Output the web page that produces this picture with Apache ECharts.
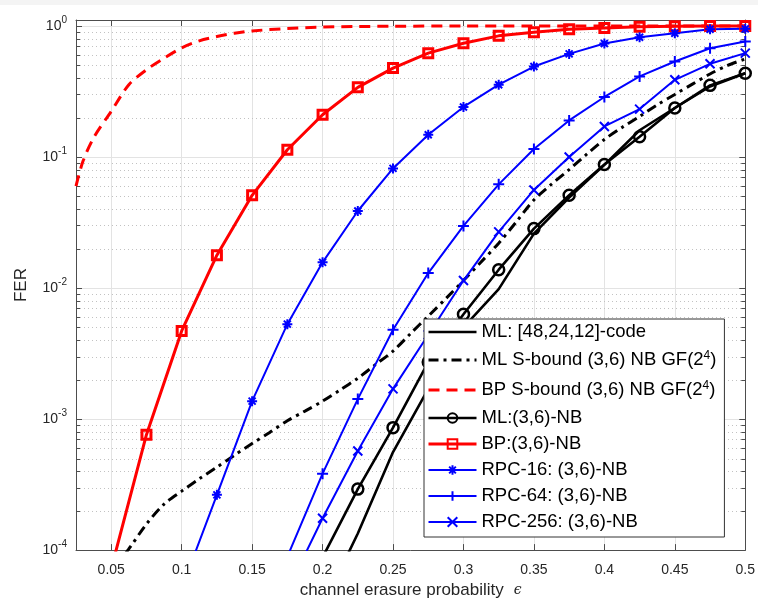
<!DOCTYPE html>
<html lang="en">
<head>
<meta charset="UTF-8">
<title>FER vs channel erasure probability</title>
<script src="https://cdn.jsdelivr.net/npm/echarts@6/dist/echarts.min.js"></script>
<style>
  html, body { margin: 0; padding: 0; background: #fff; }
  #main { position: absolute; left: 0; top: 0; width: 758px; height: 604px; }
  #strip { position: absolute; left: 0; top: 0; width: 758px; height: 5px; background: #f4f4f4; }
</style>
</head>
<body>
<div id="main"></div>
<div id="strip"></div>
<script type="text/javascript">
var FONT = '"Liberation Sans", Arial, Helvetica, sans-serif';
var X_MIN = 0.025, X_MAX = 0.5;
var Y_MIN = 1e-4, Y_MAX = 1.11;

var names = [
  'ML: [48,24,12]-code',
  'ML S-bound (3,6) NB GF(2^4)',
  'BP S-bound (3,6) NB GF(2^4)',
  'ML:(3,6)-NB',
  'BP:(3,6)-NB',
  'RPC-16: (3,6)-NB',
  'RPC-64: (3,6)-NB',
  'RPC-256: (3,6)-NB'
];

// ML [48,24,12]-code
var epsMLcode = [0.2, 0.225, 0.25, 0.275, 0.3, 0.325, 0.35, 0.375, 0.4, 0.425, 0.45, 0.475, 0.5];
var ferMLcode = [3.7e-5, 1.34e-4, 5.6e-4, 1.7e-3, 5.0e-3, 9.8e-3, 0.026, 0.049, 0.087, 0.16, 0.2365, 0.345, 0.436];

// ML S-bound (dash-dot)
var epsMLbound = [0.05, 0.0625, 0.075, 0.0875, 0.1, 0.1125, 0.125, 0.1375, 0.15, 0.1625, 0.175, 0.1875,
  0.2, 0.2125, 0.225, 0.2375, 0.25, 0.2625, 0.275, 0.2875, 0.3, 0.3125, 0.325, 0.3375, 0.35, 0.3625,
  0.375, 0.3875, 0.4, 0.4125, 0.425, 0.4375, 0.45, 0.4625, 0.475, 0.4875, 0.5];
var ferMLbound = [6.8e-5, 1.02e-4, 1.58e-4, 2.24e-4, 2.82e-4, 3.5e-4, 4.3e-4, 5.3e-4, 6.5e-4, 7.9e-4, 9.7e-4, 1.15e-3,
  1.37e-3, 1.67e-3, 2.05e-3, 2.6e-3, 3.3e-3, 4.5e-3, 6.1e-3, 8.3e-3, 0.0114, 0.0158, 0.022, 0.032, 0.047, 0.062,
  0.08, 0.105, 0.136, 0.168, 0.204, 0.25, 0.3, 0.36, 0.43, 0.5, 0.56];

// BP S-bound (dashed red)
var epsBPbound = [0.025, 0.03, 0.0375, 0.05, 0.0625, 0.075, 0.0875, 0.1, 0.1125, 0.125, 0.1375, 0.15,
  0.175, 0.2, 0.225, 0.25, 0.3, 0.35, 0.4, 0.45, 0.5];
var ferBPbound = [0.06, 0.093, 0.14, 0.223, 0.356, 0.463, 0.568, 0.68, 0.77, 0.83, 0.88, 0.916,
  0.955, 0.98, 0.99, 0.995, 0.999, 1, 1, 1, 1];

// ML (3,6)-NB (circles)
var epsML = [0.2, 0.225, 0.25, 0.275, 0.3, 0.325, 0.35, 0.375, 0.4, 0.425, 0.45, 0.475, 0.5];
var ferML = [8.8e-5, 2.92e-4, 8.6e-4, 2.72e-3, 6.3e-3, 0.0138, 0.0284, 0.051, 0.0877, 0.1425, 0.2365, 0.352, 0.436];

// BP (3,6)-NB (squares)
var epsBP = [0.05, 0.075, 0.1, 0.125, 0.15, 0.175, 0.2, 0.225, 0.25, 0.275, 0.3, 0.325, 0.35, 0.375, 0.4,
  0.425, 0.45, 0.475, 0.5];
var ferBP = [7.2e-5, 7.6e-4, 4.7e-3, 0.0178, 0.051, 0.1135, 0.21, 0.34, 0.477, 0.62, 0.738, 0.84, 0.895, 0.944, 0.966,
  0.985, 0.993, 0.997, 0.999];

// RPC-16 (asterisks)
var epsRPC16 = [0.1, 0.125, 0.15, 0.175, 0.2, 0.225, 0.25, 0.275, 0.3, 0.325, 0.35, 0.375, 0.4, 0.425, 0.45, 0.475, 0.5];
var ferRPC16 = [5.1e-5, 2.64e-4, 1.37e-3, 5.3e-3, 0.0157, 0.0387, 0.0818, 0.148, 0.241, 0.356, 0.49, 0.612, 0.735,
  0.82, 0.88, 0.944, 0.95];

// RPC-64 (plus)
var epsRPC64 = [0.175, 0.2, 0.225, 0.25, 0.275, 0.3, 0.325, 0.35, 0.375, 0.4, 0.425, 0.45, 0.475, 0.5];
var ferRPC64 = [8.9e-5, 3.83e-4, 1.42e-3, 4.8e-3, 0.013, 0.0298, 0.0618, 0.115, 0.19, 0.287, 0.412, 0.535, 0.676, 0.76];

// RPC-256 (cross)
var epsRPC256 = [0.175, 0.2, 0.225, 0.25, 0.275, 0.3, 0.325, 0.35, 0.375, 0.4, 0.425, 0.45, 0.475, 0.5];
var ferRPC256 = [4.9e-5, 1.75e-4, 5.7e-4, 1.7e-3, 4.4e-3, 0.0114, 0.0268, 0.056, 0.1, 0.171, 0.232, 0.388, 0.514, 0.62];

// minor log ticks 2..9 x 10^k
var minorVals = [];
for (var k = -4; k < 0; k++) {
  for (var m = 2; m <= 9; m++) minorVals.push(m * Math.pow(10, k));
}

function pairs(xs, ys) {
  return xs.map(function (x, i) { return [x, ys[i]]; });
}

var AX = '#4d4d4d';
var SYM_AST = 'path://M5,0L5,10M0,5L10,5M1.5,1.5L8.5,8.5M1.5,8.5L8.5,1.5';
var SYM_PLUS = 'path://M5,0L5,10M0,5L10,5';
var SYM_X = 'path://M0,0L10,10M0,10L10,0';
var CLEAR = 'rgba(0,0,0,0)';

// line widths, also used for the legend samples
var widths = [2.6, 3, 3, 2.6, 3, 2, 2, 2];

function line(name, data, color, width, opts) {
  opts = opts || {};
  var hasSym = !!opts.symbol;
  return {
    type: 'line',
    name: name,
    data: data,
    smooth: opts.smooth || false,
    // plain lines keep an invisible symbol so the legend shows only the line
    symbol: hasSym ? opts.symbol : 'circle',
    symbolSize: hasSym ? (opts.symbolSize || 10) : 1,
    showSymbol: hasSym,
    clip: true,
    z: 3,
    lineStyle: { color: color, width: width, type: opts.dash || 'solid' },
    itemStyle: hasSym ? {
      color: opts.fill || color,
      borderColor: color,
      borderWidth: opts.borderWidth || 2
    } : { color: CLEAR, borderColor: CLEAR, borderWidth: 0 },
    emphasis: { disabled: true }
  };
}

var myChart = echarts.init(document.getElementById('main'));

var option = {
  animation: false,
  backgroundColor: '#fff',
  textStyle: { fontFamily: FONT },
  grid: { left: 76, right: 12, top: 20, bottom: 52 },
  xAxis: [{
    type: 'value',
    min: X_MIN, max: X_MAX, splitNumber: 10,
    position: 'bottom',
    name: '{t|channel erasure probability}{e|ϵ}',
    nameLocation: 'middle',
    nameGap: 29,
    nameTextStyle: {
      rich: {
        t: { fontFamily: FONT, fontSize: 17, color: '#262626' },
        e: { fontFamily: 'DejaVu Serif', fontStyle: 'italic', fontSize: 14, color: '#262626', padding: [0, 0, 0, 10] }
      }
    },
    axisLine: { show: true, lineStyle: { color: AX, width: 1 } },
    axisTick: { show: true, inside: true, length: 6, lineStyle: { color: AX } },
    axisLabel: { show: true, showMinLabel: false, margin: 13, fontSize: 14, color: '#262626', fontFamily: FONT },
    splitLine: { show: true, lineStyle: { color: '#e3e3e3', width: 1 } }
  }, {
    type: 'value',
    min: X_MIN, max: X_MAX, splitNumber: 10,
    position: 'top',
    axisLine: { show: true, lineStyle: { color: AX, width: 1 } },
    axisTick: { show: true, inside: true, length: 6, lineStyle: { color: AX } },
    axisLabel: { show: false },
    splitLine: { show: false }
  }],
  yAxis: [{
    type: 'log',
    logBase: 10,
    min: Y_MIN, max: Y_MAX,
    position: 'left',
    name: 'FER',
    nameLocation: 'middle',
    nameGap: 46,
    nameRotate: 90,
    nameTextStyle: { fontFamily: FONT, fontSize: 17, color: '#262626' },
    axisLine: { show: true, lineStyle: { color: AX, width: 1 } },
    axisTick: { show: true, inside: true, length: 6, lineStyle: { color: AX } },
    axisLabel: {
      show: true, showMaxLabel: false, margin: 9,
      formatter: function (v) {
        var e = Math.log10(v);
        if (Math.abs(e - Math.round(e)) > 0.01) return '';
        return '{b|10}{s|' + Math.round(e) + '}';
      },
      rich: {
        b: { fontFamily: FONT, fontSize: 14, lineHeight: 16, color: '#262626' },
        s: { fontFamily: FONT, fontSize: 10, lineHeight: 16, color: '#262626', padding: [0, 0, 12, 0] }
      }
    },
    splitLine: { show: true, lineStyle: { color: '#e3e3e3', width: 1 } },
    minorTick: { show: false },
    minorSplitLine: { show: false }
  }, {
    type: 'log',
    logBase: 10,
    min: Y_MIN, max: Y_MAX,
    position: 'right',
    axisLine: { show: true, lineStyle: { color: AX, width: 1 } },
    axisTick: { show: true, inside: true, length: 6, lineStyle: { color: AX } },
    axisLabel: { show: false },
    splitLine: { show: false }
  }],
  legend: {
    orient: 'vertical',
    left: 424,
    top: 319,
    data: names.map(function (n, i) { return { name: n, lineStyle: { width: widths[i] } }; }),
    selectedMode: false,
    backgroundColor: '#fff',
    borderColor: '#333',
    borderWidth: 1,
    borderRadius: 0,
    padding: [3, 8, 5, 3],
    itemGap: 6,
    itemWidth: 48,
    itemHeight: 12,
    textStyle: {
      fontFamily: FONT, fontSize: 18.5, color: '#000', lineHeight: 20,
      rich: {
        p: { fontFamily: FONT, fontSize: 18.5, color: '#000', lineHeight: 20 },
        n: { fontFamily: FONT, fontSize: 18.5, color: '#000', lineHeight: 24 },
        s: { fontFamily: FONT, fontSize: 12, color: '#000', padding: [0, 0, 9, 0] }
      }
    },
    formatter: function (name) {
      if (name.indexOf('GF(2^4)') >= 0) {
        return '{n|' + name.replace('GF(2^4)', 'GF(2') + '}{s|4}{n|)}';
      }
      return '{p|' + name + '}';
    }
  },
  series: [
    {
      type: 'custom',
      name: 'minor',
      silent: true,
      z: 1,
      xAxisIndex: 0,
      yAxisIndex: 0,
      data: minorVals.map(function (v) { return [X_MIN, v]; }),
      renderItem: function (params, api) {
        var cs = params.coordSys;
        var y = Math.round(api.coord([X_MIN, api.value(1)])[1]) + 0.5;
        return {
          type: 'group',
          children: [
            { type: 'line', shape: { x1: cs.x, y1: y, x2: cs.x + cs.width, y2: y },
              style: { stroke: '#c2c2c2', lineWidth: 1, lineDash: [1, 3] } },
            { type: 'line', shape: { x1: cs.x, y1: y, x2: cs.x + 4, y2: y },
              style: { stroke: AX, lineWidth: 1 } },
            { type: 'line', shape: { x1: cs.x + cs.width - 4, y1: y, x2: cs.x + cs.width, y2: y },
              style: { stroke: AX, lineWidth: 1 } }
          ]
        };
      }
    },
    line(names[0], pairs(epsMLcode, ferMLcode), '#000', widths[0]),
    line(names[1], pairs(epsMLbound, ferMLbound), '#000', widths[1], { dash: [10, 5, 3, 5], smooth: 0.3 }),
    line(names[2], pairs(epsBPbound, ferBPbound), '#ff0000', widths[2], { dash: [11, 7], smooth: 0.3 }),
    line(names[3], pairs(epsML, ferML), '#000', widths[3],
      { symbol: 'circle', symbolSize: 11, fill: CLEAR, borderWidth: 2.5 }),
    line(names[4], pairs(epsBP, ferBP), '#ff0000', widths[4],
      { symbol: 'rect', symbolSize: 9, fill: CLEAR, borderWidth: 3 }),
    line(names[5], pairs(epsRPC16, ferRPC16), '#0000ff', widths[5],
      { symbol: SYM_AST, symbolSize: 10, borderWidth: 2 }),
    line(names[6], pairs(epsRPC64, ferRPC64), '#0000ff', widths[6],
      { symbol: SYM_PLUS, symbolSize: 11, borderWidth: 2 }),
    line(names[7], pairs(epsRPC256, ferRPC256), '#0000ff', widths[7],
      { symbol: SYM_X, symbolSize: 9, borderWidth: 2 })
  ]
};

myChart.setOption(option);
</script>
</body>
</html>
